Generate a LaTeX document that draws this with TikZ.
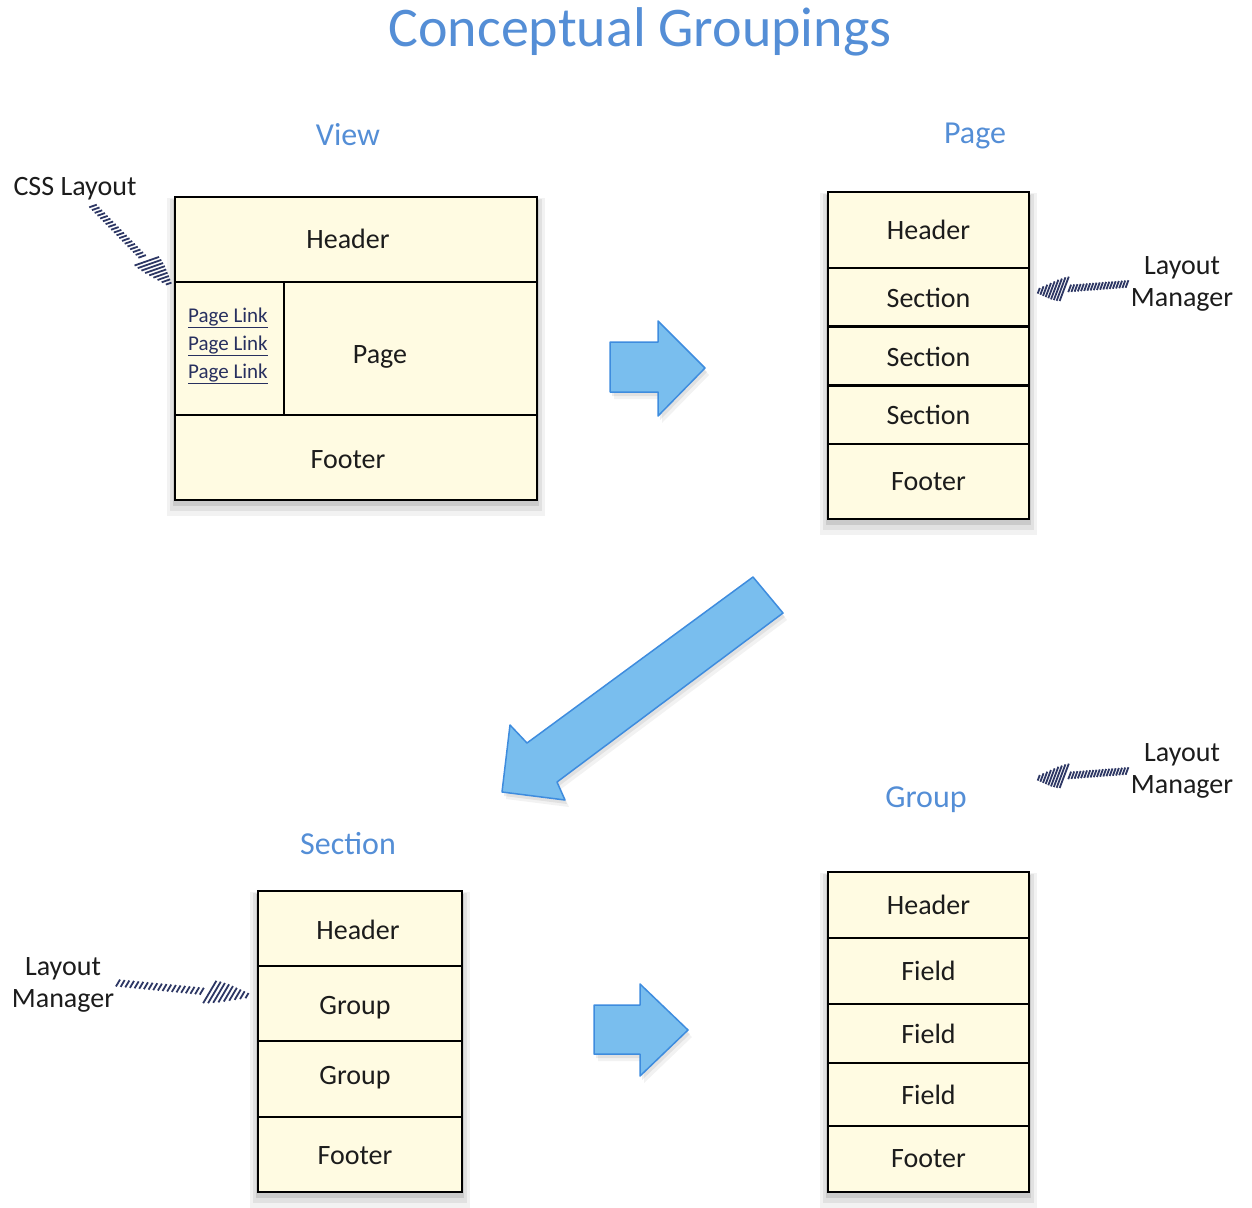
\documentclass[tikz,border=0pt]{standalone}
\usepackage{fontspec}
\setmainfont{Carlito}
\usetikzlibrary{calc}
\definecolor{cream}{RGB}{255,251,226}
\definecolor{lblue}{RGB}{84,142,214}
\definecolor{txt}{RGB}{28,28,28}
\definecolor{linkc}{RGB}{40,48,95}
\definecolor{navy}{RGB}{45,55,100}
\definecolor{arrowfill}{RGB}{121,190,238}
\definecolor{arrowline}{RGB}{62,140,222}
\tikzset{
  cell/.style={draw=black, line width=1.6pt, fill=cream, inner sep=0pt,
    font=\fontsize{28}{32}\selectfont, text=txt},
  ttl/.style={text=lblue, font=\fontsize{56}{60}\selectfont},
  sect/.style={text=lblue, font=\fontsize{32}{34}\selectfont},
  note/.style={text=txt, font=\fontsize{28}{32}\selectfont, align=center, inner sep=0pt},
  link/.style={text=linkc, font=\fontsize{21}{23}\selectfont, inner sep=0pt},
  bigarrow/.style={fill=arrowfill, draw=arrowline, line width=1.5pt, line join=round},
  hatch/.style={draw=navy, line width=1.8pt},
  outer/.style={draw=black, line width=2.6pt},
}
\newcommand\boxshadow[4]{%
  \fill[black,opacity=0.05] (#1-8,#2+1) rectangle (#3+8,#4+16);
  \fill[black,opacity=0.07] (#1-5,#2+2) rectangle (#3+5,#4+11);
  \fill[black,opacity=0.10] (#1-2,#2+3) rectangle (#3+2,#4+6);
}
\newcommand\hatcharrow[2]{%
  \draw[hatch] let \p1=($(#2)-(#1)$), \n1={atan2(\y1,\x1)} in
    foreach \t in {0,0.035,...,0.66} { ($(#1)!\t!(#2)$) ++(\n1+65:4pt) -- ++(\n1-115:8pt) }
    foreach \t/\h in {0.69/13pt,0.725/12.5pt,0.76/11.5pt,0.795/10.5pt,0.83/9pt,0.865/7.5pt,0.9/6pt,0.935/4.5pt,0.97/3pt} { ($(#1)!\t!(#2)$) ++(\n1+65:\h) -- ++(\n1-115:2*\h) };
}
\newcommand\arrowshadow[1]{%
  \fill[black,opacity=0.05,xshift=4pt,yshift=-7pt] #1 -- cycle;
  \fill[black,opacity=0.07,xshift=2pt,yshift=-4pt] #1 -- cycle;
}
\begin{document}
\begin{tikzpicture}[x=1pt,y=-1pt]
\useasboundingbox (0,0) rectangle (1252,1207);

% Title and headings
\node[ttl] (title) at (640,32) {Conceptual Groupings};
\node[sect] (lview) at (348,135) {View};
\node[sect] (lpage) at (975,136) {Page};
\node[sect] (lsection) at (348,844) {Section};
\node[sect] (lgroup) at (926,800) {Group};

% ---------------- View box
\boxshadow{175}{197}{537}{500}
\node[cell, minimum width=362, minimum height=85] (vh) at (356,239.5) {};
\node[note] at (348,239) {Header};
\node[cell, minimum width=109, minimum height=133] (vl) at (229.5,348.5) {};
\node[cell, minimum width=253, minimum height=133] (vp) at (410.5,348.5) {};
\node[note] at (380,357) {Page};
\node[cell, minimum width=362, minimum height=85] (vf) at (356,457.5) {};
\node[note] at (348,460) {Footer};
\draw[outer] (175,197) rectangle (537,500);
\node[link] (pl1) at (228,318) {\underline{Page Link}};
\node[link] (pl2) at (228,346) {\underline{Page Link}};
\node[link] (pl3) at (228,374) {\underline{Page Link}};

% CSS layout
\node[note] (css) at (75,189) {CSS Layout};
\coordinate (cssT) at (93,206);
\coordinate (cssH) at (171,286);
\hatcharrow{cssT}{cssH}

% ---------------- Page box
\boxshadow{828}{192}{1029}{519}
\node[cell, minimum width=201, minimum height=76] (ph) at (928.5,230) {Header};
\node[cell, minimum width=201, minimum height=59] (ps1) at (928.5,297.5) {Section};
\node[cell, minimum width=201, minimum height=59] (ps2) at (928.5,356.5) {Section};
\node[cell, minimum width=201, minimum height=58] (ps3) at (928.5,415) {Section};
\node[cell, minimum width=201, minimum height=75] (pf) at (928.5,481.5) {Footer};
\draw[black, line width=3.2pt] (ps2.north west) -- (ps2.north east);
\draw[black, line width=3.2pt] (ps3.north west) -- (ps3.north east);
\draw[outer] (828,192) rectangle (1029,519);

\node[note] (lm1) at (1182,284) {Layout\\Manager};
\coordinate (lm1T) at (1127,284);
\coordinate (lm1H) at (1036,291);
\hatcharrow{lm1T}{lm1H}

% ---------------- Arrow 1 (View -> Page)
\arrowshadow{(610,342) -- (658,342) -- (658,321) -- (705,368) -- (658,416) -- (658,392) -- (610,392)}
\draw[bigarrow] (610,342) -- (658,342) -- (658,321) -- (705,368) -- (658,416) -- (658,392) -- (610,392) -- cycle;

% ---------------- Arrow 2 (Page -> Section)
\arrowshadow{(753,577) -- (783,613) -- (557,782) -- (565,800) -- (502,792) -- (510,725) -- (527,743)}
\draw[bigarrow] (753,577) -- (783,613) -- (557,782) -- (565,800) -- (502,792) -- (510,725) -- (527,743) -- cycle;

% ---------------- Section box
\boxshadow{258}{891}{462}{1192}
\node[cell, minimum width=204, minimum height=75] (sh) at (360,928.5) {};
\node[note] at (358,930) {Header};
\node[cell, minimum width=204, minimum height=75] (sg1) at (360,1003.5) {};
\node[note] at (355,1008) {Group};
\node[cell, minimum width=204, minimum height=76] (sg2) at (360,1079) {};
\node[note] at (355,1078) {Group};
\node[cell, minimum width=204, minimum height=75] (sf) at (360,1154.5) {};
\node[note] at (355,1156) {Footer};
\draw[outer] (258,891) rectangle (462,1192);

\node[note] (lm3) at (63,985) {Layout\\Manager};
\coordinate (lm3T) at (118,983);
\coordinate (lm3H) at (251,996);
\hatcharrow{lm3T}{lm3H}

% ---------------- Arrow 3 (Section -> Group)
\arrowshadow{(594,1005) -- (640,1005) -- (640,984) -- (688,1030) -- (640,1076) -- (640,1054) -- (594,1054)}
\draw[bigarrow] (594,1005) -- (640,1005) -- (640,984) -- (688,1030) -- (640,1076) -- (640,1054) -- (594,1054) -- cycle;

% ---------------- Group box
\boxshadow{828}{872}{1029}{1192}
\node[cell, minimum width=201, minimum height=66] (gh) at (928.5,905) {Header};
\node[cell, minimum width=201, minimum height=66] (gf1) at (928.5,971) {Field};
\node[cell, minimum width=201, minimum height=59] (gf2) at (928.5,1033.5) {Field};
\node[cell, minimum width=201, minimum height=63] (gf3) at (928.5,1094.5) {Field};
\node[cell, minimum width=201, minimum height=66] (gft) at (928.5,1159) {Footer};
\draw[outer] (828,872) rectangle (1029,1192);

\node[note] (lm2) at (1182,771) {Layout\\Manager};
\coordinate (lm2T) at (1127,771);
\coordinate (lm2H) at (1036,778);
\hatcharrow{lm2T}{lm2H}
\end{tikzpicture}
\end{document}
